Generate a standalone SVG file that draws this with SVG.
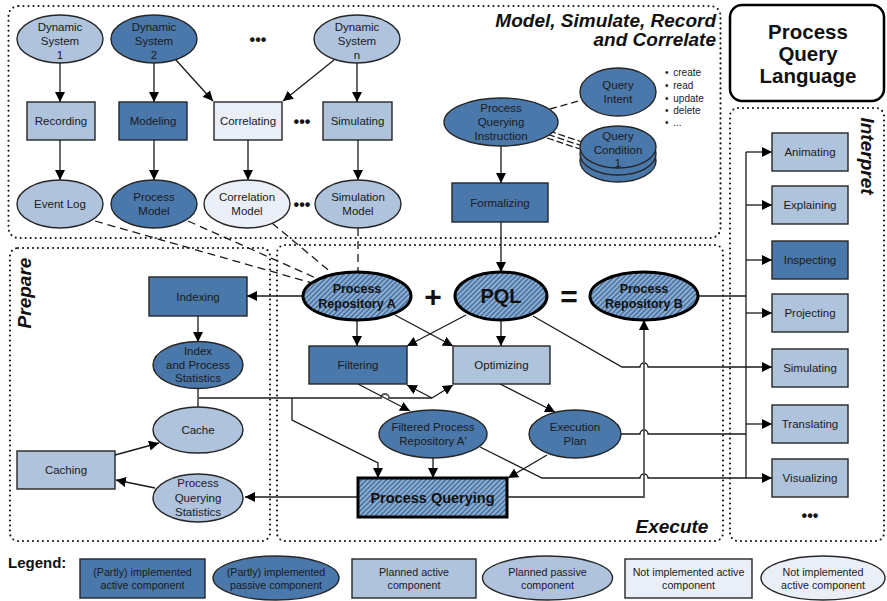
<svg xmlns="http://www.w3.org/2000/svg" width="887" height="601" viewBox="0 0 887 601">
<style>
.d{fill:#4A78AB}.l{fill:#AFC3DD}.v{fill:#E9EEF7}
.n{stroke:#262626;stroke-width:1.4}
.k{stroke:#000;stroke-width:3}
.t{font-family:"Liberation Sans",Arial,sans-serif;font-size:11.5px;fill:#1a1a1a;text-anchor:middle}
.b{font-family:"Liberation Sans",Arial,sans-serif;font-weight:bold;fill:#111;text-anchor:middle}
.bi{font-family:"Liberation Sans",Arial,sans-serif;font-weight:bold;font-style:italic;fill:#111;font-size:19px}
.lg{font-family:"Liberation Sans",Arial,sans-serif;font-size:10.7px;fill:#1a1a1a;text-anchor:middle}
.sm{font-family:"Liberation Sans",Arial,sans-serif;font-size:10px;fill:#222}
.dots{font-family:"Liberation Sans",Arial,sans-serif;font-size:16px;font-weight:bold;fill:#111;text-anchor:middle}
.c path,.c line{stroke:#1a1a1a;stroke-width:1.3;fill:none}
.c .g{stroke:#555;stroke-width:1.8}
.a{marker-end:url(#ah)}
.c .ds{stroke-dasharray:8 5}
.dot{fill:none;stroke:#111;stroke-width:2.1;stroke-dasharray:0 5;stroke-linecap:round}
</style>
<defs>
<marker id="ah" markerUnits="userSpaceOnUse" markerWidth="11" markerHeight="10" refX="10" refY="5" orient="auto">
<path d="M0,0 L10,5 L0,10 z" fill="#000"/>
</marker>
<pattern id="hatch" patternUnits="userSpaceOnUse" width="3.5" height="3.5" patternTransform="rotate(45)">
<rect width="3.5" height="3.5" fill="#4A78AB"/>
<line x1="1.75" y1="0" x2="1.75" y2="3.5" stroke="#fff" stroke-width="0.9" stroke-opacity="0.8"/>
</pattern>
</defs>
<rect width="887" height="601" fill="#fff"/>

<!-- regions -->
<g id="regions">
<rect class="dot" x="8.5" y="6" width="712" height="232" rx="10"/>
<rect class="dot" x="10" y="248" width="260" height="293" rx="8"/>
<rect class="dot" x="277" y="245" width="446" height="296" rx="8"/>
<rect class="dot" x="730" y="108" width="154" height="433" rx="8"/>
<text class="bi" x="716" y="27" text-anchor="end">Model, Simulate, Record</text>
<text class="bi" x="716" y="46" text-anchor="end">and Correlate</text>
<text class="bi" transform="translate(31,293) rotate(-90)" text-anchor="middle">Prepare</text>
<text class="bi" transform="translate(861,156) rotate(90)" text-anchor="middle">Interpret</text>
<text class="bi" x="672" y="533" text-anchor="middle">Execute</text>
</g>

<g id="pql-box">
<rect x="730" y="5" width="154" height="96" rx="12" fill="#fff" stroke="#000" stroke-width="2.5"/>
<text class="b" x="808" y="38.5" font-size="20.5">Process</text>
<text class="b" x="808" y="61" font-size="20.5">Query</text>
<text class="b" x="808" y="83" font-size="20.5">Language</text>
</g>

<!-- connectors -->
<g id="connectors" class="c">
<line class="a" x1="60" y1="63" x2="60" y2="102"/>
<line class="a" x1="154" y1="63" x2="154" y2="102"/>
<line class="a" x1="176" y1="60" x2="213" y2="101"/>
<line class="a" x1="334" y1="60" x2="283" y2="101"/>
<line class="a" x1="357" y1="63" x2="357" y2="102"/>
<line class="a" x1="60" y1="140" x2="60" y2="180"/>
<line class="a" x1="154" y1="140" x2="154" y2="180"/>
<line class="a" x1="248" y1="140" x2="248" y2="180"/>
<line class="a" x1="358" y1="140" x2="358" y2="180"/>
<line class="ds" x1="95" y1="221" x2="312" y2="283"/>
<line class="ds" x1="188" y1="221" x2="318" y2="279"/>
<line class="ds" x1="272" y1="223" x2="333" y2="274"/>
<line class="ds" x1="358" y1="228" x2="358" y2="272"/>
<line x1="550" y1="109" x2="582" y2="100" stroke-dasharray="7 4"/>
<line x1="549" y1="131" x2="582" y2="142" stroke-dasharray="7 3" stroke-width="1"/>
<line x1="548" y1="134.5" x2="581" y2="145.5" stroke-dasharray="7 3" stroke-width="1"/>
<line x1="547" y1="138" x2="580" y2="149" stroke-dasharray="7 3" stroke-width="1"/>
<line class="a" x1="501" y1="146" x2="501" y2="183"/>
<line class="a" x1="501" y1="222" x2="501" y2="272"/>
<line class="a" x1="303" y1="296" x2="247" y2="296"/>
<line class="a" x1="198" y1="316" x2="198" y2="342"/>
<line x1="198" y1="388" x2="198" y2="407"/>
<path class="g" d="M198,398 H381 a4,4 0 0 1 8,0 H432"/>
<line class="a" x1="432" y1="398" x2="407" y2="385"/>
<line class="a" x1="432" y1="398" x2="453" y2="385"/>
<path class="a" d="M292,398 V420 L378,463 V478"/>
<line class="a" x1="357" y1="320" x2="357" y2="346"/>
<line class="a" x1="395" y1="315" x2="453" y2="346"/>
<line class="a" x1="466" y1="315" x2="407" y2="346"/>
<line class="a" x1="501" y1="320" x2="501" y2="346"/>
<path class="a" d="M533,316 L622,367 H640 a4,4 0 0 1 8,0 H772"/>
<line class="a" x1="358" y1="384" x2="410" y2="411"/>
<line class="a" x1="500" y1="384" x2="555" y2="412"/>
<line class="a" x1="433" y1="458" x2="433" y2="478"/>
<line class="a" x1="547" y1="455" x2="508" y2="478"/>
<path class="a" d="M480,447 L542,478 H640 a4,4 0 0 1 8,0 H772"/>
<path d="M621,434 H640 a4,4 0 0 1 8,0 H746"/>
<path class="g a" d="M507,497 H644 V320"/>
<line class="g a" x1="358" y1="497" x2="245" y2="497"/>
<line class="a" x1="115" y1="455" x2="159" y2="443"/>
<line class="a" x1="155" y1="488" x2="116" y2="480"/>
<line x1="698" y1="296" x2="746" y2="296"/>
<line x1="746" y1="152" x2="746" y2="478"/>
<line class="a" x1="746" y1="152" x2="772" y2="152"/>
<line class="a" x1="746" y1="205" x2="772" y2="205"/>
<line class="a" x1="746" y1="260" x2="772" y2="260"/>
<line class="a" x1="746" y1="313" x2="772" y2="313"/>
<line class="a" x1="746" y1="424" x2="772" y2="424"/>
</g>

<!-- top nodes -->
<g id="ds1"><ellipse class="l n" cx="60" cy="39" rx="43" ry="24"/><text class="t" x="60" y="31">Dynamic</text><text class="t" x="60" y="45">System</text><text class="t" x="60" y="59">1</text></g>
<g id="ds2"><ellipse class="d n" cx="154" cy="39" rx="43" ry="24"/><text class="t" x="154" y="31">Dynamic</text><text class="t" x="154" y="45">System</text><text class="t" x="154" y="59">2</text></g>
<text class="dots" x="258" y="45">•••</text>
<g id="dsn"><ellipse class="l n" cx="357" cy="39" rx="43" ry="24"/><text class="t" x="357" y="31">Dynamic</text><text class="t" x="357" y="45">System</text><text class="t" x="357" y="59">n</text></g>
<g id="recording"><rect class="l n" x="27" y="102" width="68" height="38"/><text class="t" x="61" y="125">Recording</text></g>
<g id="modeling"><rect class="d n" x="119" y="102" width="68" height="38"/><text class="t" x="153" y="125">Modeling</text></g>
<g id="correlating"><rect class="v n" x="214" y="102" width="68" height="38"/><text class="t" x="248" y="125">Correlating</text></g>
<text class="dots" x="302" y="127">•••</text>
<g id="simulating-top"><rect class="l n" x="323" y="102" width="69" height="38"/><text class="t" x="357.5" y="125">Simulating</text></g>
<g id="eventlog"><ellipse class="l n" cx="60" cy="204" rx="43" ry="24"/><text class="t" x="60" y="208">Event Log</text></g>
<g id="processmodel"><ellipse class="d n" cx="154" cy="204" rx="43" ry="24"/><text class="t" x="154" y="201">Process</text><text class="t" x="154" y="215">Model</text></g>
<g id="correlationmodel"><ellipse class="v n" cx="247" cy="204" rx="43" ry="24"/><text class="t" x="247" y="201">Correlation</text><text class="t" x="247" y="215">Model</text></g>
<text class="dots" x="302" y="210">•••</text>
<g id="simulationmodel"><ellipse class="l n" cx="358" cy="204" rx="43" ry="24"/><text class="t" x="358" y="201">Simulation</text><text class="t" x="358" y="215">Model</text></g>

<g id="pqi"><ellipse class="d n" cx="501" cy="122" rx="57" ry="24"/><text class="t" x="501" y="112">Process</text><text class="t" x="501" y="126">Querying</text><text class="t" x="501" y="140">Instruction</text></g>
<g id="queryintent"><ellipse class="d n" cx="618" cy="92" rx="38" ry="24"/><text class="t" x="618" y="89">Query</text><text class="t" x="618" y="103">Intent</text></g>
<g id="querycondition">
<ellipse class="d n" cx="618" cy="161" rx="38" ry="21"/>
<ellipse class="d n" cx="618" cy="154" rx="38" ry="21"/>
<ellipse class="d n" cx="618" cy="147" rx="38" ry="21"/>
<text class="t" x="618" y="140">Query</text><text class="t" x="618" y="154">Condition</text><text class="t" x="618" y="167">1</text></g>
<g id="intent-list">
<text class="sm" x="665" y="76">• <tspan dx="2">create</tspan></text>
<text class="sm" x="665" y="89">• <tspan dx="2">read</tspan></text>
<text class="sm" x="665" y="101.5">• <tspan dx="2">update</tspan></text>
<text class="sm" x="665" y="114">• <tspan dx="2">delete</tspan></text>
<text class="sm" x="665" y="126">• <tspan dx="2">...</tspan></text>
</g>
<g id="formalizing"><rect class="d n" x="452" y="183" width="96" height="39"/><text class="t" x="500" y="207">Formalizing</text></g>

<!-- middle -->
<g id="pra"><ellipse cx="357" cy="296" rx="54" ry="24" fill="url(#hatch)" class="k"/><text class="b" x="357" y="292.5" font-size="12.5">Process</text><text class="b" x="357" y="307.5" font-size="12.5">Repository A</text></g>
<text class="b" x="433" y="307" font-size="30">+</text>
<g id="pql"><ellipse cx="501" cy="296" rx="46" ry="24" fill="url(#hatch)" class="k"/><text class="b" x="501" y="303" font-size="20">PQL</text></g>
<text class="b" x="569" y="307" font-size="30">=</text>
<g id="prb"><ellipse cx="644" cy="296" rx="54" ry="24" fill="url(#hatch)" class="k"/><text class="b" x="644" y="292.5" font-size="12.5">Process</text><text class="b" x="644" y="307.5" font-size="12.5">Repository B</text></g>

<g id="indexing"><rect class="d n" x="149" y="277" width="98" height="39"/><text class="t" x="198" y="300.5">Indexing</text></g>
<g id="ips"><ellipse class="d n" cx="198" cy="365" rx="45" ry="23.5"/><text class="t" x="198" y="355">Index</text><text class="t" x="198" y="369">and Process</text><text class="t" x="198" y="382">Statistics</text></g>
<g id="cache"><ellipse class="l n" cx="198" cy="430" rx="45" ry="23"/><text class="t" x="198" y="434">Cache</text></g>
<g id="caching"><rect class="l n" x="17" y="451" width="98" height="38"/><text class="t" x="66" y="474">Caching</text></g>
<g id="pqs"><ellipse class="l n" cx="198" cy="498" rx="45" ry="24"/><text class="t" x="198" y="487">Process</text><text class="t" x="198" y="502">Querying</text><text class="t" x="198" y="516">Statistics</text></g>

<g id="filtering"><rect class="d n" x="309" y="346" width="98" height="38"/><text class="t" x="358" y="369">Filtering</text></g>
<g id="optimizing"><rect class="l n" x="453" y="346" width="97" height="38"/><text class="t" x="501.5" y="369">Optimizing</text></g>
<g id="fpr"><ellipse class="d n" cx="433" cy="434" rx="54" ry="24"/><text class="t" x="433" y="431">Filtered Process</text><text class="t" x="433" y="445">Repository A'</text></g>
<g id="execplan"><ellipse class="d n" cx="575" cy="434" rx="46" ry="24"/><text class="t" x="575" y="431">Execution</text><text class="t" x="575" y="445">Plan</text></g>
<g id="pq"><rect x="358" y="478" width="149" height="39" fill="url(#hatch)" class="k"/><text class="b" x="432.5" y="503" font-size="14.5">Process Querying</text></g>

<!-- interpret -->
<g id="animating"><rect class="l n" x="772" y="133" width="76" height="38"/><text class="t" x="810" y="156">Animating</text></g>
<g id="explaining"><rect class="l n" x="772" y="186" width="76" height="38"/><text class="t" x="810" y="209">Explaining</text></g>
<g id="inspecting"><rect class="d n" x="772" y="241" width="76" height="38"/><text class="t" x="810" y="264">Inspecting</text></g>
<g id="projecting"><rect class="l n" x="772" y="294" width="76" height="38"/><text class="t" x="810" y="317">Projecting</text></g>
<g id="simulating"><rect class="l n" x="772" y="349" width="76" height="38"/><text class="t" x="810" y="372">Simulating</text></g>
<g id="translating"><rect class="l n" x="772" y="405" width="76" height="38"/><text class="t" x="810" y="428">Translating</text></g>
<g id="visualizing"><rect class="l n" x="772" y="459" width="76" height="38"/><text class="t" x="810" y="482">Visualizing</text></g>
<text class="dots" x="810" y="521">•••</text>

<!-- legend -->
<g id="legend">
<text class="b" x="8" y="568" font-size="15" style="text-anchor:start">Legend:</text>
<rect class="d n" x="80" y="559" width="125" height="39"/>
<text class="lg" x="142.5" y="576">(Partly) implemented</text><text class="lg" x="142.5" y="589">active component</text>
<ellipse class="d n" cx="276" cy="578" rx="63" ry="22"/>
<text class="lg" x="276" y="576">(Partly) implemented</text><text class="lg" x="276" y="589">passive component</text>
<rect class="l n" x="352" y="559" width="124" height="39"/>
<text class="lg" x="414" y="576">Planned active</text><text class="lg" x="414" y="589">component</text>
<ellipse class="l n" cx="547.5" cy="578" rx="65" ry="22"/>
<text class="lg" x="547.5" y="576">Planned passive</text><text class="lg" x="547.5" y="589">component</text>
<rect class="v n" x="625" y="559" width="127" height="39"/>
<text class="lg" x="688.5" y="576">Not implemented active</text><text class="lg" x="688.5" y="589">component</text>
<ellipse class="v n" cx="823" cy="578" rx="62" ry="22"/>
<text class="lg" x="823" y="576">Not implemented</text><text class="lg" x="823" y="589">active component</text>
</g>
</svg>
